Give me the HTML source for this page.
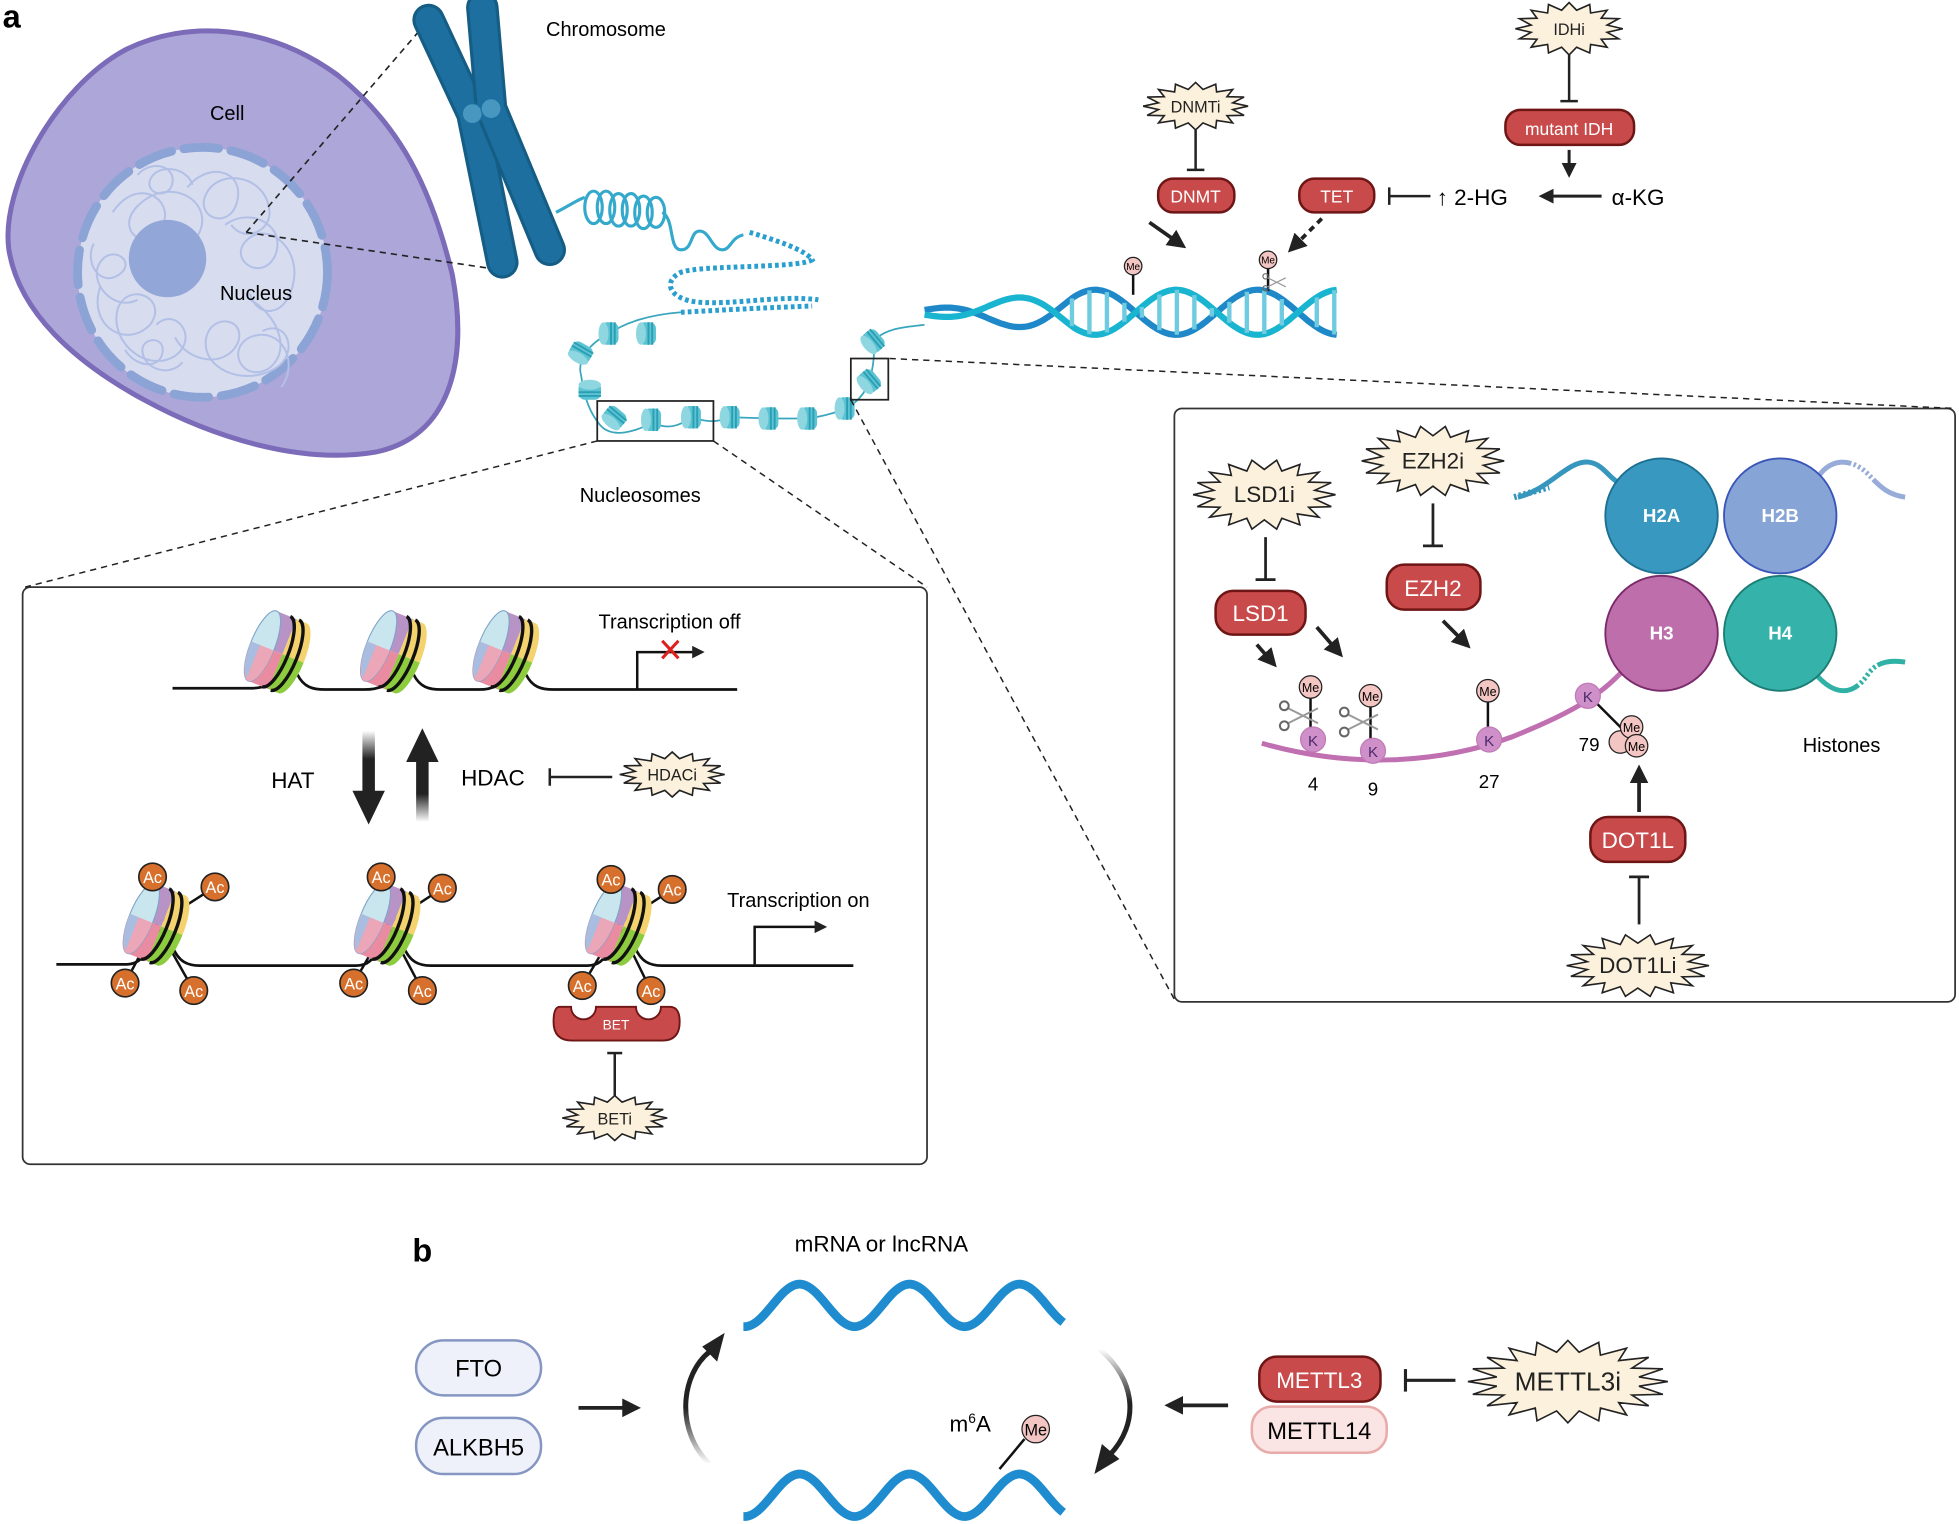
<!DOCTYPE html>
<html><head><meta charset="utf-8">
<style>
html,body{margin:0;padding:0;background:#fff;}
svg{display:block;}
text{font-family:"Liberation Sans",Arial,sans-serif;}
</style></head>
<body>
<svg id="s" width="1959" height="1524" viewBox="0 0 1568 1220" xmlns="http://www.w3.org/2000/svg">
<defs>
  <linearGradient id="fadeDown" x1="0" y1="0" x2="0" y2="1">
    <stop offset="0" stop-color="#222" stop-opacity="0"/>
    <stop offset="0.45" stop-color="#222"/>
  </linearGradient>
  <linearGradient id="fadeUp" x1="0" y1="1" x2="0" y2="0">
    <stop offset="0" stop-color="#222" stop-opacity="0"/>
    <stop offset="0.45" stop-color="#222"/>
  </linearGradient>
  <clipPath id="nucClip"><path d="M-12,-28 L12,-28 A9,28 0 0 1 12,28 L-12,28 A9,28 0 0 1 -12,-28 Z"/></clipPath>
  <g id="nuc0" transform="rotate(22)">
    <g clip-path="url(#nucClip)">
      <rect x="-22" y="-30" width="26" height="30" fill="#b893c6"/>
      <rect x="4" y="-30" width="20" height="30" fill="#f4d36f"/>
      <rect x="-22" y="0" width="26" height="30" fill="#e98ba1"/>
      <rect x="4" y="0" width="20" height="30" fill="#8dcb3f"/>
    </g>
    <path d="M-12,-28 A9,28 0 0 0 -12,28 A9,28 0 0 0 -12,-28Z" fill="#c9e6ee" stroke="#7fa3c9" stroke-width="0.8"/>
    <path d="M-21,0 A9,28 0 0 0 -12,28 A9,28 0 0 0 -3,0Z" fill="#eba6b8"/>
    <path d="M-21,0 A9,28 0 0 0 -14,26 L-14,0Z" fill="#a9bde0"/>
    <path d="M-1,-28 A9,28 0 0 1 -1,28" fill="none" stroke="#111" stroke-width="2.5"/>
    <path d="M6,-28 A9,28 0 0 1 6,28" fill="none" stroke="#111" stroke-width="2.5"/>
  </g>
  <g id="nuc" transform="scale(1.08)"><use href="#nuc0"/></g>
  <g id="mini">
    <rect x="-7" y="-9" width="14" height="18" rx="5" fill="#5cc3d3"/>
    <ellipse cx="-5" cy="0" rx="4" ry="9" fill="#8ed6e0"/>
    <line x1="1" y1="-9" x2="1" y2="9" stroke="#2a9fb4" stroke-width="1.5"/>
    <line x1="4" y1="-9" x2="4" y2="9" stroke="#2a9fb4" stroke-width="1.5"/>
  </g>
  <g id="scis" stroke="#999" stroke-width="1.6" fill="none">
    <line x1="-12" y1="-6" x2="12" y2="6"/><line x1="-12" y1="6" x2="12" y2="-6"/>
    <circle cx="-15" cy="-8" r="3.5" stroke="#666"/><circle cx="-15" cy="8" r="3.5" stroke="#666"/>
  </g>
  <marker id="ah" viewBox="0 0 10 10" refX="8" refY="5" markerWidth="5" markerHeight="5" orient="auto"><path d="M0,0 L10,5 L0,10Z" fill="#222"/></marker>
</defs>

<text x="2" y="22" font-size="26" font-weight="bold">a</text>
<text x="330" y="1010" font-size="26" font-weight="bold">b</text>

<!-- Cell -->
<path d="M100,40 C150,15 215,20 270,60 C320,100 345,150 362,220 C375,290 360,350 300,362 C240,372 170,350 115,320 C60,290 15,250 7,200 C0,150 45,70 100,40Z" fill="#aca6d9" stroke="#7b6bb8" stroke-width="4"/>
<circle cx="162" cy="218" r="100" fill="#d7dcef"/>
<circle cx="162" cy="218" r="100" fill="none" stroke="#8ca3d6" stroke-width="7" stroke-dasharray="28,10" stroke-linecap="round"/>
<g fill="none" stroke="#b3c0e6" stroke-width="1.6">
  <path d="M90,170 c20,-30 50,-10 40,10 c-10,25 -40,5 -20,-15 c25,-25 60,-5 50,20 c-8,20 -35,10 -25,-5"/>
  <path d="M150,150 c15,-20 45,-15 40,10 c-5,25 -35,15 -25,-5 c10,-20 45,-15 50,10 c5,20 -20,30 -30,15"/>
  <path d="M180,180 c20,-15 50,0 40,25 c-10,20 -35,5 -25,-10 c15,-20 45,0 40,30 c-5,30 -30,30 -35,10"/>
  <path d="M80,230 c-10,30 20,50 40,30 c15,-20 -15,-35 -25,-15 c-10,25 20,55 45,40 c20,-15 0,-40 -15,-25"/>
  <path d="M140,270 c10,20 40,25 50,5 c8,-20 -20,-25 -25,-5 c-5,25 30,40 55,25 c20,-12 10,-40 -10,-30"/>
  <path d="M200,240 c20,10 35,40 15,55 c-20,12 -35,-15 -15,-25 c25,-10 40,20 25,40"/>
  <path d="M75,195 c-8,15 5,35 20,25 c15,-10 -5,-25 -15,-10 c-10,15 10,40 30,30"/>
  <path d="M110,140 c10,-12 30,-8 28,6 c-2,14 -22,10 -18,-2 c6,-14 30,-10 34,4"/>
  <path d="M100,280 c8,14 28,16 30,2 c2,-14 -18,-12 -16,0 c2,14 22,20 32,8"/>
</g>
<circle cx="134" cy="207" r="31" fill="#93a6d8"/>
<text x="168" y="96" font-size="16">Cell</text>
<text x="176" y="240" font-size="16">Nucleus</text>

<line x1="197" y1="186" x2="343" y2="16" stroke="#222" stroke-width="1.3" stroke-dasharray="5,4"/>
<line x1="197" y1="186" x2="400" y2="216" stroke="#222" stroke-width="1.3" stroke-dasharray="5,4"/>

<g stroke-linecap="round" fill="none">
  <path d="M343,16 L378,91 L402,210" stroke="#155d85" stroke-width="26"/>
  <path d="M343,16 L378,91 L402,210" stroke="#1c6f9f" stroke-width="21"/>
  <path d="M386,6 L393,87 L440,200" stroke="#155d85" stroke-width="26"/>
  <path d="M386,6 L393,87 L440,200" stroke="#1c6f9f" stroke-width="21"/>
</g>
<circle cx="378" cy="91" r="8" fill="#4797c0" stroke="#1c6f9f"/>
<circle cx="393" cy="87" r="8" fill="#4797c0" stroke="#1c6f9f"/>
<text x="437" y="29" font-size="16">Chromosome</text>

<g fill="none" stroke="#34a9cc" stroke-width="2.5">
  <path d="M445,170 C455,165 462,160 468,158"/>
  <ellipse cx="475" cy="166" rx="7" ry="13"/><ellipse cx="485" cy="166" rx="7" ry="13"/>
  <ellipse cx="495" cy="168" rx="7" ry="13"/><ellipse cx="505" cy="168" rx="7" ry="13"/>
  <ellipse cx="515" cy="170" rx="7" ry="13"/><ellipse cx="525" cy="170" rx="7" ry="12"/>
  <path d="M530,170 C540,175 535,200 545,200 C555,200 552,185 560,185 C568,185 570,200 578,200 C585,200 585,190 595,188"/>
</g>
<g fill="none" stroke="#2a9fcf" stroke-width="4" stroke-dasharray="3,2.5">
  <path d="M600,186 C620,192 645,200 650,208 C640,215 560,212 545,218 C530,225 535,240 560,242 C590,244 625,236 655,240"/>
  <path d="M545,250 C580,248 620,246 650,245"/>
</g>
<path d="M545,250 C520,252 500,258 488,267 C470,275 462,290 465,300 C468,320 472,330 480,340 C490,352 510,345 522,338 C535,345 545,340 554,334 C570,340 578,336 585,334 L616,335 L647,335 C660,333 670,330 677,327 C690,320 694,310 696,305 C700,290 700,280 699,273 C710,262 725,262 740,260" fill="none" stroke="#3aa6bd" stroke-width="1.4"/>
<use href="#mini" x="488" y="267"/>
<use href="#mini" x="518" y="267"/>
<g transform="translate(465,282) rotate(-60)"><use href="#mini"/></g>
<g transform="translate(472,313) rotate(90)"><use href="#mini"/></g>
<g transform="translate(492,334) rotate(-50)"><use href="#mini"/></g>
<use href="#mini" x="522" y="336"/>
<use href="#mini" x="554" y="334"/>
<use href="#mini" x="585" y="334"/>
<use href="#mini" x="616" y="335"/>
<use href="#mini" x="647" y="335"/>
<use href="#mini" x="677" y="327"/>
<g transform="translate(696,305) rotate(-40)"><use href="#mini"/></g>
<g transform="translate(699,273) rotate(-40)"><use href="#mini"/></g>
<rect x="478" y="321" width="93" height="32" fill="none" stroke="#222" stroke-width="1.4"/>
<rect x="681" y="287" width="30" height="33" fill="none" stroke="#222" stroke-width="1.4"/>
<text x="464" y="402" font-size="16">Nucleosomes</text>

<path id="h1" fill="none" stroke="#1e88c8" stroke-width="5"/>
<path id="h2" fill="none" stroke="#19b5d0" stroke-width="5"/>
<g id="rungs" stroke="#6fcbe0" stroke-width="3.5"></g>
<line x1="907" y1="236" x2="907" y2="219" stroke="#111" stroke-width="2"/>
<circle cx="907" cy="213" r="7" fill="#f4c6c3" stroke="#222"/><text x="907" y="216" font-size="8" text-anchor="middle">Me</text>
<line x1="1015" y1="233" x2="1015" y2="214" stroke="#111" stroke-width="2"/>
<circle cx="1015" cy="208" r="7" fill="#f4c6c3" stroke="#222"/><text x="1015" y="211" font-size="8" text-anchor="middle">Me</text>
<g transform="translate(1022,226) scale(0.6)"><use href="#scis"/></g>

<line x1="920" y1="178" x2="947" y2="197" stroke="#222" stroke-width="3" marker-end="url(#ah)"/>
<line x1="1058" y1="175" x2="1033" y2="200" stroke="#222" stroke-width="3" stroke-dasharray="5,4" marker-end="url(#ah)"/>
<line x1="957" y1="104" x2="957" y2="136" stroke="#222" stroke-width="2"/><line x1="950" y1="136" x2="964" y2="136" stroke="#222" stroke-width="2"/>
<line x1="1256" y1="44" x2="1256" y2="81" stroke="#222" stroke-width="2"/><line x1="1249" y1="81" x2="1263" y2="81" stroke="#222" stroke-width="2"/>
<line x1="1256" y1="120" x2="1256" y2="140" stroke="#222" stroke-width="2.4" marker-end="url(#ah)"/>
<line x1="1282" y1="157" x2="1234" y2="157" stroke="#222" stroke-width="2.4" marker-end="url(#ah)"/>
<line x1="1112" y1="157" x2="1145" y2="157" stroke="#222" stroke-width="2"/><line x1="1112" y1="150" x2="1112" y2="164" stroke="#222" stroke-width="2"/>
<text x="1150" y="164" font-size="18">↑ 2-HG</text>
<text x="1290" y="164" font-size="18">α-KG</text>

<rect x="18" y="470" width="724" height="462" rx="6" fill="none" stroke="#333" stroke-width="1.4"/>
<line x1="478" y1="353" x2="20" y2="470" stroke="#222" stroke-width="1.2" stroke-dasharray="5,4"/>
<line x1="571" y1="353" x2="742" y2="470" stroke="#222" stroke-width="1.2" stroke-dasharray="5,4"/>
<path d="M138,551 H200 C212,551 216,548 222,540 M238,540 C243,550 250,552 260,552 H292 C305,552 310,548 315,540 M331,540 C336,550 343,552 353,552 H383 C396,552 400,548 405,540 M421,540 C426,550 433,552 443,552 H590" fill="none" stroke="#111" stroke-width="2.2"/>
<use href="#nuc" x="222" y="522"/><use href="#nuc" x="315" y="522"/><use href="#nuc" x="405" y="522"/>
<path d="M510,552 V522 H562" fill="none" stroke="#111" stroke-width="2" marker-end="url(#ah)"/>
<path d="M530,513 L543,527 M543,513 L530,527" stroke="#e0201c" stroke-width="2.4"/>
<text x="479" y="503" font-size="16">Transcription off</text>
<rect x="290" y="585" width="10" height="50" fill="url(#fadeDown)"/>
<path d="M282,633 H308 L295,660Z" fill="#222"/>
<rect x="333" y="608" width="10" height="50" fill="url(#fadeUp)"/>
<path d="M325,610 H351 L338,583Z" fill="#222"/>
<text x="217" y="631" font-size="18">HAT</text>
<text x="369" y="629" font-size="18">HDAC</text>
<line x1="440" y1="622" x2="490" y2="622" stroke="#222" stroke-width="2"/><line x1="440" y1="615" x2="440" y2="629" stroke="#222" stroke-width="2"/>
<path d="M45,772 H100 C110,772 113,768 118,760 M138,758 C143,770 150,773 160,773 H285 C295,773 298,768 303,760 M323,758 C328,770 335,773 345,773 H470 C480,773 483,768 488,760 M508,758 C513,770 520,773 530,773 H683" fill="none" stroke="#111" stroke-width="2.2"/>
<g id="acg"></g>
<use href="#nuc" x="125" y="740"/><use href="#nuc" x="310" y="740"/><use href="#nuc" x="495" y="740"/>
<path d="M604,772 V742 H660" fill="none" stroke="#111" stroke-width="2" marker-end="url(#ah)"/>
<text x="582" y="726" font-size="16">Transcription on</text>
<path d="M448,806 H457 A10,10 0 0 0 477,806 H509 A10,10 0 0 0 529,806 H536 Q544,806 544,818 Q544,833 530,833 H458 Q443,833 443,818 Q443,806 448,806Z" fill="#c94a4a" stroke="#6e1515" stroke-width="1.5"/>
<text x="493" y="824" font-size="11" fill="#fff" text-anchor="middle">BET</text>
<line x1="492" y1="843" x2="492" y2="878" stroke="#222" stroke-width="2"/><line x1="486" y1="843" x2="498" y2="843" stroke="#222" stroke-width="2"/>

<rect x="940" y="327" width="625" height="475" rx="6" fill="none" stroke="#333" stroke-width="1.4"/>
<line x1="681" y1="320" x2="940" y2="800" stroke="#222" stroke-width="1.2" stroke-dasharray="5,4"/>
<line x1="712" y1="287" x2="1565" y2="327" stroke="#222" stroke-width="1.2" stroke-dasharray="5,4"/>
<path d="M1215,398 C1240,392 1255,368 1272,370 C1285,372 1288,385 1300,388" fill="none" stroke="#3796bd" stroke-width="4"/>
<path d="M1212,398 L1240,390" stroke="#3796bd" stroke-width="5" stroke-dasharray="2,2" fill="none"/>
<path d="M1452,388 C1460,370 1475,365 1490,375 C1500,382 1505,395 1525,398" fill="none" stroke="#98acd9" stroke-width="4" stroke-dasharray="38,2,2,2,2,2,2,2,2,2,2,2"/>
<path d="M1452,538 C1470,560 1485,555 1495,540 C1502,530 1512,528 1525,530" fill="none" stroke="#2fb1a6" stroke-width="4" stroke-dasharray="42,2,2,2,2,2,2,2,2,2,2,2"/>
<path d="M1010,595 C1080,615 1150,612 1210,590 C1260,570 1285,555 1305,530" fill="none" stroke="#c06fb1" stroke-width="4"/>
<ellipse cx="1330" cy="413" rx="45" ry="46" fill="#3898bf" stroke="#1d6f91" stroke-width="1.5"/>
<ellipse cx="1425" cy="413" rx="45" ry="46" fill="#86a4d6" stroke="#3a55b8" stroke-width="1.5"/>
<ellipse cx="1330" cy="507" rx="45" ry="46" fill="#be6fab" stroke="#7a2a6a" stroke-width="1.5"/>
<ellipse cx="1425" cy="507" rx="45" ry="46" fill="#35b3ab" stroke="#1b7d73" stroke-width="1.5"/>
<g font-size="15" font-weight="bold" fill="#fff" text-anchor="middle">
<text x="1330" y="418">H2A</text><text x="1425" y="418">H2B</text><text x="1330" y="512">H3</text><text x="1425" y="512">H4</text>
</g>
<text x="1443" y="602" font-size="16">Histones</text>
<g stroke="#111" stroke-width="2">
<line x1="1049" y1="590" x2="1049" y2="553"/><line x1="1097" y1="598" x2="1097" y2="560"/><line x1="1191" y1="590" x2="1191" y2="556"/>
<line x1="1272" y1="557" x2="1300" y2="585"/>
</g>
<g fill="#cf8fc8" stroke="#c07ab8"><circle cx="1051" cy="592" r="10"/><circle cx="1099" cy="601" r="10"/><circle cx="1192" cy="592" r="10"/><circle cx="1271" cy="557" r="10"/></g>
<g font-size="12" fill="#4a2a6a" text-anchor="middle"><text x="1051" y="597">K</text><text x="1099" y="606">K</text><text x="1192" y="597">K</text><text x="1271" y="562">K</text></g>
<g fill="#f4c6c3" stroke="#222"><circle cx="1049" cy="550" r="9"/><circle cx="1097" cy="557" r="9"/><circle cx="1191" cy="553" r="9"/>
<circle cx="1297" cy="594" r="9"/><circle cx="1306" cy="582" r="9"/><circle cx="1310" cy="597" r="9"/></g>
<g font-size="10" text-anchor="middle"><text x="1049" y="554">Me</text><text x="1097" y="561">Me</text><text x="1191" y="557">Me</text>
<text x="1306" y="586">Me</text><text x="1310" y="601">Me</text></g>
<g transform="translate(1043,573)"><use href="#scis"/></g>
<g transform="translate(1091,578)"><use href="#scis"/></g>
<g font-size="15" text-anchor="middle"><text x="1051" y="633">4</text><text x="1099" y="637">9</text><text x="1192" y="631">27</text><text x="1272" y="601">79</text></g>
<g stroke="#222" stroke-width="3" marker-end="url(#ah)">
<line x1="1006" y1="516" x2="1020" y2="532"/><line x1="1054" y1="502" x2="1073" y2="524"/><line x1="1155" y1="497" x2="1175" y2="517"/>
<line x1="1312" y1="650" x2="1312" y2="615"/>
</g>
<g stroke="#222" stroke-width="2.2">
<line x1="1013" y1="430" x2="1013" y2="464"/><line x1="1005" y1="464" x2="1021" y2="464"/>
<line x1="1147" y1="403" x2="1147" y2="437"/><line x1="1139" y1="437" x2="1155" y2="437"/>
<line x1="1312" y1="740" x2="1312" y2="702"/><line x1="1304" y1="702" x2="1320" y2="702"/>
</g>

<g fill="#c94a4a" stroke="#6e1515" stroke-width="2">
<rect x="1205" y="88" width="103" height="28" rx="12"/>
<rect x="927" y="143" width="61" height="27" rx="12"/>
<rect x="1040" y="143" width="60" height="27" rx="12"/>
<rect x="973" y="473" width="72" height="35" rx="14"/>
<rect x="1110" y="452" width="75" height="36" rx="14"/>
<rect x="1273" y="654" width="76" height="36" rx="14"/>
<rect x="1008" y="1086" width="97" height="36" rx="14"/>
</g>
<g fill="#fff" text-anchor="middle">
<text x="1256" y="108" font-size="14">mutant IDH</text>
<text x="957" y="162" font-size="14">DNMT</text>
<text x="1070" y="162" font-size="14">TET</text>
<text x="1009" y="497" font-size="18">LSD1</text>
<text x="1147" y="477" font-size="18">EZH2</text>
<text x="1311" y="679" font-size="18">DOT1L</text>
<text x="1056" y="1111" font-size="18">METTL3</text>
</g>

<text x="636" y="1002" font-size="18">mRNA or lncRNA</text>
<path id="w1" fill="none" stroke="#1e8ccf" stroke-width="7"/>
<path id="w2" fill="none" stroke="#1e8ccf" stroke-width="7"/>
<line x1="800" y1="1176" x2="820" y2="1152" stroke="#111" stroke-width="2"/>
<circle cx="829" cy="1144" r="11" fill="#f4c6c3" stroke="#222"/><text x="829" y="1149" font-size="13" text-anchor="middle">Me</text>
<text x="760" y="1146" font-size="18">m<tspan font-size="11" dy="-7">6</tspan><tspan dy="7">A</tspan></text>
<rect x="333" y="1073" width="100" height="44" rx="22" fill="#eef1fa" stroke="#8596c2" stroke-width="2"/>
<rect x="333" y="1135" width="100" height="45" rx="22" fill="#eef1fa" stroke="#8596c2" stroke-width="2"/>
<text x="383" y="1102" font-size="19" text-anchor="middle">FTO</text>
<text x="383" y="1165" font-size="19" text-anchor="middle">ALKBH5</text>
<line x1="463" y1="1127" x2="510" y2="1127" stroke="#222" stroke-width="3" marker-end="url(#ah)"/>
<linearGradient id="g1" x1="0" y1="1" x2="0" y2="0"><stop offset="0" stop-color="#222" stop-opacity="0"/><stop offset="0.5" stop-color="#222"/></linearGradient>
<path d="M568,1172 C540,1145 545,1100 568,1082" fill="none" stroke="url(#g1)" stroke-width="4"/>
<path d="M562,1078 L580,1067 L574,1090Z" fill="#222"/>
<linearGradient id="g2" x1="0" y1="0" x2="0" y2="1"><stop offset="0" stop-color="#222" stop-opacity="0"/><stop offset="0.5" stop-color="#222"/></linearGradient>
<path d="M880,1080 C910,1105 912,1140 888,1165" fill="none" stroke="url(#g2)" stroke-width="4"/>
<path d="M876,1180 L882,1156 L896,1168Z" fill="#222"/>
<line x1="983" y1="1125" x2="935" y2="1125" stroke="#222" stroke-width="3" marker-end="url(#ah)"/>
<rect x="1002" y="1126" width="108" height="37" rx="16" fill="#fbe4e4" stroke="#e9aaaa" stroke-width="2"/>
<text x="1056" y="1152" font-size="19" text-anchor="middle">METTL14</text>
<line x1="1125" y1="1105" x2="1165" y2="1105" stroke="#222" stroke-width="2.5"/><line x1="1125" y1="1096" x2="1125" y2="1114" stroke="#222" stroke-width="2.5"/>

<g id="stars"></g>
<g id="startext" text-anchor="middle" fill="#222">
<text x="1256" y="28" font-size="13">IDHi</text>
<text x="957" y="90" font-size="13">DNMTi</text>
<text x="1012" y="402" font-size="18">LSD1i</text>
<text x="1147" y="375" font-size="18">EZH2i</text>
<text x="538" y="625" font-size="13">HDACi</text>
<text x="492" y="900" font-size="13">BETi</text>
<text x="1311" y="779" font-size="18">DOT1Li</text>
<text x="1255" y="1113" font-size="21">METTL3i</text>
</g>
</svg>
<script>
(function(){
var NS="http://www.w3.org/2000/svg";
function star(cx,cy,w,h,n){
  var p=[];for(var i=0;i<2*n;i++){var a=Math.PI*i/n;var r=(i%2?0.72:1);
  p.push((cx+Math.cos(a)*w/2*r).toFixed(1)+","+(cy+Math.sin(a)*h/2*r).toFixed(1));}
  var e=document.createElementNS(NS,"polygon");e.setAttribute("points",p.join(" "));
  e.setAttribute("fill","#fcf1dd");e.setAttribute("stroke","#222");e.setAttribute("stroke-width","1.3");
  document.getElementById("stars").appendChild(e);
}
star(1256,23,86,42,16);star(957,85,84,38,16);star(1012,396,114,56,18);star(1147,369,114,56,18);
star(538,620,84,36,16);star(492,895,84,36,16);star(1311,773,114,50,18);star(1255,1106,160,66,20);

function wave(id,c,x0,x1){var d="";for(var x=x0;x<=x1;x+=2){var y=c-17*Math.cos(2*Math.PI*(x-640)/88);d+=(x==x0?"M":"L")+x+","+y.toFixed(1);}document.getElementById(id).setAttribute("d",d);}
wave("w1",1045,595,852);wave("w2",1197,595,852);

var d1="",d2="",r=document.getElementById("rungs");
for(var x=740;x<=1070;x+=2){
  var A=x<860?2+16*(x-740)/120:18;
  var ph=2*Math.PI*(x-909)/130;
  var y1=250+A*Math.sin(ph), y2=250-A*Math.sin(ph);
  d1+=(x==740?"M":"L")+x+","+y1.toFixed(1);d2+=(x==740?"M":"L")+x+","+y2.toFixed(1);
  if(x>830 && (x-830)%14==0 && Math.abs(y1-y2)>6){var l=document.createElementNS(NS,"line");
   l.setAttribute("x1",x);l.setAttribute("x2",x);l.setAttribute("y1",y1);l.setAttribute("y2",y2);r.appendChild(l);}
}
document.getElementById("h1").setAttribute("d",d1);document.getElementById("h2").setAttribute("d",d2);

var ac=[[125,[[122,702],[172,710],[100,787],[155,793]]],[310,[[305,702],[354,711],[283,787],[338,793]]],[495,[[489,704],[538,712],[466,789],[521,793]]]];
var g=document.getElementById("acg");
ac.forEach(function(n){n[1].forEach(function(p){
  var l=document.createElementNS(NS,"line");l.setAttribute("x1",n[0]);l.setAttribute("y1",740);l.setAttribute("x2",p[0]);l.setAttribute("y2",p[1]);l.setAttribute("stroke","#111");l.setAttribute("stroke-width","2");g.appendChild(l);
});});
ac.forEach(function(n){n[1].forEach(function(p){
  var c=document.createElementNS(NS,"circle");c.setAttribute("cx",p[0]);c.setAttribute("cy",p[1]);c.setAttribute("r",11);c.setAttribute("fill","#d7702c");c.setAttribute("stroke","#222");c.setAttribute("stroke-width","1.3");document.getElementById("s").appendChild(c);
  var t=document.createElementNS(NS,"text");t.setAttribute("x",p[0]);t.setAttribute("y",p[1]+5);t.setAttribute("font-size","13");t.setAttribute("fill","#fff");t.setAttribute("text-anchor","middle");t.textContent="Ac";document.getElementById("s").appendChild(t);
});});
})();
</script>
</body></html>
